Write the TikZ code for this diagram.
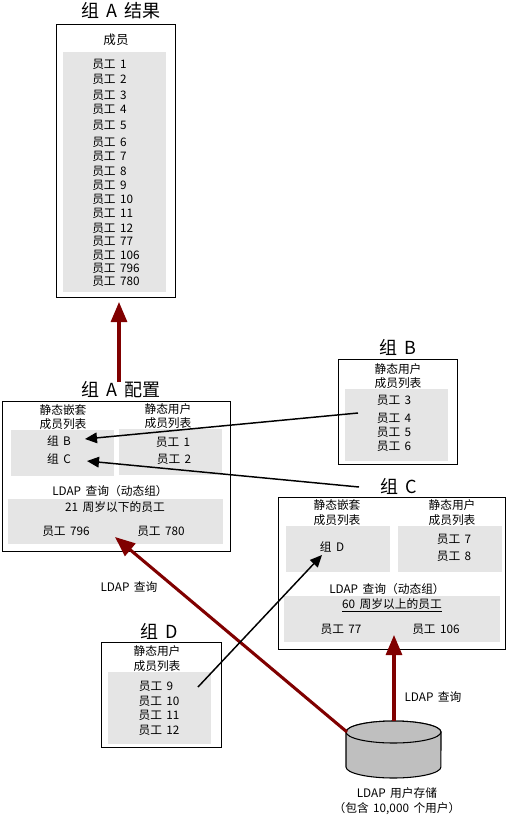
\documentclass[tikz,border=0pt]{standalone}
\usepackage{fontspec}
\setmainfont[WordSpace=1.7]{Noto Sans CJK SC}
\usepackage{tikz}
\usetikzlibrary{positioning,arrows.meta}
\definecolor{darkred}{HTML}{800000}
\definecolor{panelgray}{HTML}{E5E5E5}
\definecolor{storegray}{HTML}{BFBFBF}

\begin{document}
\begin{tikzpicture}[
      x=0.75pt, y=-0.75pt,
      font=\fontsize{8.8pt}{10.9pt}\selectfont,
      box/.style={draw, line width=0.8pt, inner sep=0pt, anchor=north west},
      panel/.style={fill=panelgray, inner sep=0pt, anchor=north west},
      lbl/.style={inner sep=0pt, align=center},
      heading/.style={lbl, font=\fontsize{13.5pt}{15pt}\selectfont},
      store/.style={draw, line width=0.8pt, fill=storegray},
      query/.style={line width=2.3pt, darkred, -{Triangle[length=15pt, width=12pt]}},
      nest/.style={line width=1.1pt, black, -{Triangle[length=9pt, width=8pt]}},
    ]
    \useasboundingbox (0,0) rectangle (507,819);

    % group A result
    \node[box, minimum width=89.25pt, minimum height=204.75pt] (res) at (56,24) {};
    \node[panel, minimum width=77.25pt, minimum height=180pt] (respanel) at (63,52) {};
    \node[heading] (restitle) at (121,11) {组 A 结果};
    \node[lbl, font=\fontsize{9.4pt}{11pt}\selectfont] (reshead) at (116,40) {成员};
    \foreach \n/\yy in {1/64,2/79,3/95,4/109,5/125,6/142,7/156,8/171,9/185,10/199,11/213,12/228,77/241,106/255,796/268,780/281}
      \node[lbl, anchor=west] (res\n) at (92,\yy) {员工 \n};

    % group A configuration
    \node[box, minimum width=171pt, minimum height=112.5pt] (cfg) at (2,401) {};
    \node[panel, minimum width=77.25pt, minimum height=34.5pt] (cfgnest) at (11,430) {};
    \node[panel, minimum width=77.25pt, minimum height=34.5pt] (cfgstat) at (119,429) {};
    \node[panel, minimum width=161.25pt, minimum height=33.75pt] (cfgdyn) at (8,499) {};
    \node[heading] (cfgtitle) at (121,390) {组 A 配置};
    \node[lbl] (cfgnesthead) at (63,417) {静态嵌套\\成员列表};
    \node[lbl] (cfgstathead) at (168,416) {静态用户\\成员列表};
    \node[lbl] (cfgB) at (59,441) {组 B};
    \node[lbl] (cfgC) at (59,459) {组 C};
    \node[lbl] (cfg1) at (173,442) {员工 1};
    \node[lbl] (cfg2) at (174,459) {员工 2};
    \node[lbl] (cfgldap) at (110,491) {LDAP 查询（动态组）};
    \node[lbl] (cfgrule) at (115,507) {21 周岁以下的员工};
    \node[lbl] (cfg796) at (66,531) {员工 796};
    \node[lbl] (cfg780) at (161,531) {员工 780};

    % group B
    \node[box, minimum width=89.25pt, minimum height=78.75pt] (grpB) at (338,359) {};
    \node[panel, minimum width=77.25pt, minimum height=54pt] (grpBpanel) at (345,389) {};
    \node[heading] (grpBtitle) at (398,347) {组 B};
    \node[lbl] (grpBhead) at (398,376) {静态用户\\成员列表};
    \foreach \n/\yy in {3/400,4/418,5/432,6/446}
      \node[lbl] (grpB\n) at (394,\yy) {员工 \n};

    % group C
    \node[box, minimum width=170.25pt, minimum height=114pt] (grpC) at (278,497) {};
    \node[panel, minimum width=78pt, minimum height=34pt] (grpCnest) at (286,526) {};
    \node[panel, minimum width=78pt, minimum height=34pt] (grpCstat) at (398,526) {};
    \node[panel, minimum width=162pt, minimum height=34.5pt] (grpCdyn) at (284,596) {};
    \node[heading] (grpCtitle) at (399,486) {组 C};
    \node[lbl] (grpCnesthead) at (337,512.5) {静态嵌套\\成员列表};
    \node[lbl] (grpCstathead) at (452,512.5) {静态用户\\成员列表};
    \node[lbl] (grpCD) at (332,547) {组 D};
    \node[lbl] (grpC7) at (454,539) {员工 7};
    \node[lbl] (grpC8) at (454,556) {员工 8};
    \node[lbl] (grpCldap) at (387,589) {LDAP 查询（动态组）};
    \node[lbl] (grpCrule) at (392,605) {\underline{60 周岁以上的员工}};
    \node[lbl] (grpC77) at (341,629) {员工 77};
    \node[lbl] (grpC106) at (436,629) {员工 106};

    % group D
    \node[box, minimum width=90pt, minimum height=78.75pt] (grpD) at (101,642) {};
    \node[panel, minimum width=77.25pt, minimum height=54pt] (grpDpanel) at (108,672) {};
    \node[heading] (grpDtitle) at (159,631) {组 D};
    \node[lbl] (grpDhead) at (157,658.5) {静态用户\\成员列表};
    \foreach \n/\xx/\yy in {9/156/686,10/159/701,11/159/715,12/159/730}
      \node[lbl] (grpD\n) at (\xx,\yy) {员工 \n};

    % user store
    \coordinate (storetop) at (393.5,732);
    \draw[store] (346,732) -- (346,767) arc[start angle=180, end angle=360, x radius=35.6pt, y radius=8.25pt]
      -- (441,732) arc[start angle=0, end angle=180, x radius=35.6pt, y radius=8.25pt] -- cycle;
    \draw[store] (storetop) ellipse [x radius=35.6pt, y radius=8.25pt];
    \node[lbl] (storelbl) at (397,801) {LDAP 用户存储\\（包含 10,000 个用户）};
    \node[lbl] (qryA) at (129,587) {LDAP 查询};
    \node[lbl] (qryC) at (433,697) {LDAP 查询};

    % free ends of the connectors
    \coordinate (toRes) at (119,302);
    \coordinate (fromCfg) at (119,382);
    \coordinate (toCfg) at (115,537);
    \coordinate (fromStoreL) at (347,732);
    \coordinate (toC) at (394,635);
    \coordinate (fromStoreT) at (394,721);
    \coordinate (fromB) at (358,413);
    \coordinate (toB) at (85,439);
    \coordinate (fromC) at (359,487);
    \coordinate (toCC) at (87,461);
    \coordinate (fromD) at (198,687);
    \coordinate (toD) at (322,555);

    % connectors
    \draw[query] (fromCfg) -- (toRes);
    \draw[query] (fromStoreL) -- (toCfg);
    \draw[query] (fromStoreT) -- (toC);
    \draw[nest] (fromB) -- (toB);
    \draw[nest] (fromC) -- (toCC);
    \draw[nest] (fromD) -- (toD);
  \end{tikzpicture}
\end{document}
